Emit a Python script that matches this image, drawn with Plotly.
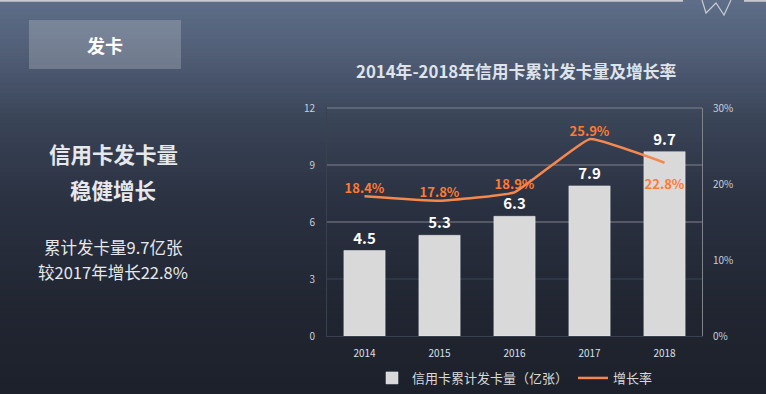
import plotly.graph_objects as go

years = ["2014", "2015", "2016", "2017", "2018"]
cards = [4.5, 5.3, 6.3, 7.9, 9.7]
growth = [18.4, 17.8, 18.9, 25.9, 22.8]
left_ticks = [0, 3, 6, 9, 12]
right_ticks = [0, 10, 20, 30]
right_labels = ["0%", "10%", "20%", "30%"]
bar_name = "信用卡累计发卡量（亿张）"
line_name = "增长率"
title_text = "2014年-2018年信用卡累计发卡量及增长率"
box_text = "发卡"
head_lines = ["信用卡发卡量", "稳健增长"]
body_lines = ["累计发卡量9.7亿张", "较2017年增长22.8%"]

W, H = 766, 394
L, R, T, B = 327, 702, 108, 336
FONT = "Noto Sans CJK SC"
YMAX = left_ticks[-1]


def px(x):
    return (x - L) / (R - L)


def py(y):
    return (B - y) / (B - T)


fig = go.Figure()
fig.add_trace(go.Bar(
    x=years, y=cards, name=bar_name, marker_color="#d9d9d9", width=0.55,
    text=[f"{v:.1f}" for v in cards], textposition="outside",
    textfont=dict(color="#ffffff", size=15, family=FONT, weight="bold"),
    cliponaxis=False,
))
fig.add_trace(go.Scatter(
    x=years, y=growth, name=line_name, yaxis="y2", mode="lines+text",
    line=dict(color="#f4884f", width=2.5, shape="spline", smoothing=0.3),
    text=[f"{v:.1f}%" if i < 4 else f"<br>{v:.1f}%" for i, v in enumerate(growth)],
    textposition=["top center", "top center", "top center", "top center", "bottom center"],
    textfont=dict(color="#ff7a33", size=13, family=FONT, weight="bold"),
    cliponaxis=False,
))

# gradient background
stops = [(0, (95, 111, 137)), (60, (79, 92, 116)), (120, (59, 69, 88)),
         (200, (43, 50, 66)), (300, (34, 39, 51)), (394, (29, 33, 43))]
shapes = []
n = 80
for i in range(n):
    y0 = H * i / n
    y1 = H * (i + 1) / n
    ym = (y0 + y1) / 2
    for j in range(len(stops) - 1):
        a, ca = stops[j]
        b, cb = stops[j + 1]
        if a <= ym <= b:
            t = (ym - a) / (b - a)
            c = tuple(int(ca[k] + (cb[k] - ca[k]) * t) for k in range(3))
            break
    shapes.append(dict(type="rect", xref="paper", yref="paper", x0=px(0), x1=px(W),
                       y0=py(y1 + 0.5), y1=py(y0 - 0.5), fillcolor=f"rgb{c}",
                       line_width=0, layer="below"))
# gridlines (lowest one faint like the reference)
for v in left_ticks[1:]:
    col = "#3a4252" if v == left_ticks[1] else "#7e838c"
    shapes.append(dict(type="line", xref="paper", yref="paper", x0=0, x1=1,
                       y0=v / YMAX, y1=v / YMAX,
                       line=dict(color=col, width=1), layer="below"))
# top light line and W icon
shapes.append(dict(type="line", xref="paper", yref="paper", x0=px(0), x1=px(683),
                   y0=py(0.8), y1=py(0.8), line=dict(color="#c8cad0", width=2)))
shapes.append(dict(type="line", xref="paper", yref="paper", x0=px(744), x1=px(766),
                   y0=py(0.8), y1=py(0.8), line=dict(color="#c8cad0", width=2)))
pts = [(702, 0), (706, 13), (716, 3), (724, 15), (731, 0)]
path = "M " + " L ".join(f"{px(a)},{py(b)}" for a, b in pts)
shapes.append(dict(type="path", xref="paper", yref="paper", path=path,
                   line=dict(color="#c8cad0", width=1.2)))
# left box
shapes.append(dict(type="rect", xref="paper", yref="paper", x0=px(29), x1=px(181),
                   y0=py(69), y1=py(20), fillcolor="rgba(255,255,255,0.2)", line_width=0))


def note(text, x, y, size, color, bold=False):
    t = f"<b>{text}</b>" if bold else text
    return dict(text=t, x=px(x), y=py(y), xref="paper", yref="paper",
                xanchor="center", yanchor="middle", showarrow=False,
                font=dict(size=size, color=color, family=FONT))


ann = [
    note(box_text, 105, 45, 18, "#ffffff", True),
    note(head_lines[0], 113, 153, 21.5, "#e6e8ec", True),
    note(head_lines[1], 113, 189, 21.5, "#e6e8ec", True),
    note(body_lines[0], 113, 247, 16.5, "#e6e8ec"),
    note(body_lines[1], 113, 272, 16.5, "#e6e8ec"),
    note(title_text, 516, 71, 16.8, "#dfe3ea", True),
]

fig.update_layout(
    width=W, height=H,
    margin=dict(l=L, r=W - R, t=T, b=H - B, autoexpand=False),
    paper_bgcolor="#2b3242", plot_bgcolor="rgba(0,0,0,0)",
    font=dict(family=FONT, color="#d0d6e0"),
    shapes=shapes, annotations=ann,
    showlegend=True,
    legend=dict(orientation="h", x=px(515), xanchor="center", y=py(378), yanchor="middle",
                font=dict(size=13, color="#d9d9d9", family=FONT), bgcolor="rgba(0,0,0,0)",
                itemwidth=30, tracegroupgap=0),
    bargap=0.45,
    xaxis=dict(showgrid=False, showline=True, linecolor="#3a4252", linewidth=1,
               tickfont=dict(size=10, color="#d8e0ec"), ticks="", fixedrange=True,
               ticklabelstandoff=8),
    yaxis=dict(range=[0, YMAX], tickvals=left_ticks, showgrid=False,
               zeroline=False, showline=True, linecolor="#39414f",
               tickfont=dict(size=10, color="#c8d0dc"), ticks="", ticklabelstandoff=9),
    yaxis2=dict(range=[0, 30], tickvals=right_ticks, ticktext=right_labels,
                overlaying="y", side="right", showgrid=False, zeroline=False,
                showline=True, linecolor="#7e838c",
                tickfont=dict(size=10, color="#c8d0dc"), ticks="", ticklabelstandoff=8),
)

fig.write_html("out.html", config={"displayModeBar": False},
               post_script="document.body.style.margin='0';document.body.style.overflow='hidden';")
